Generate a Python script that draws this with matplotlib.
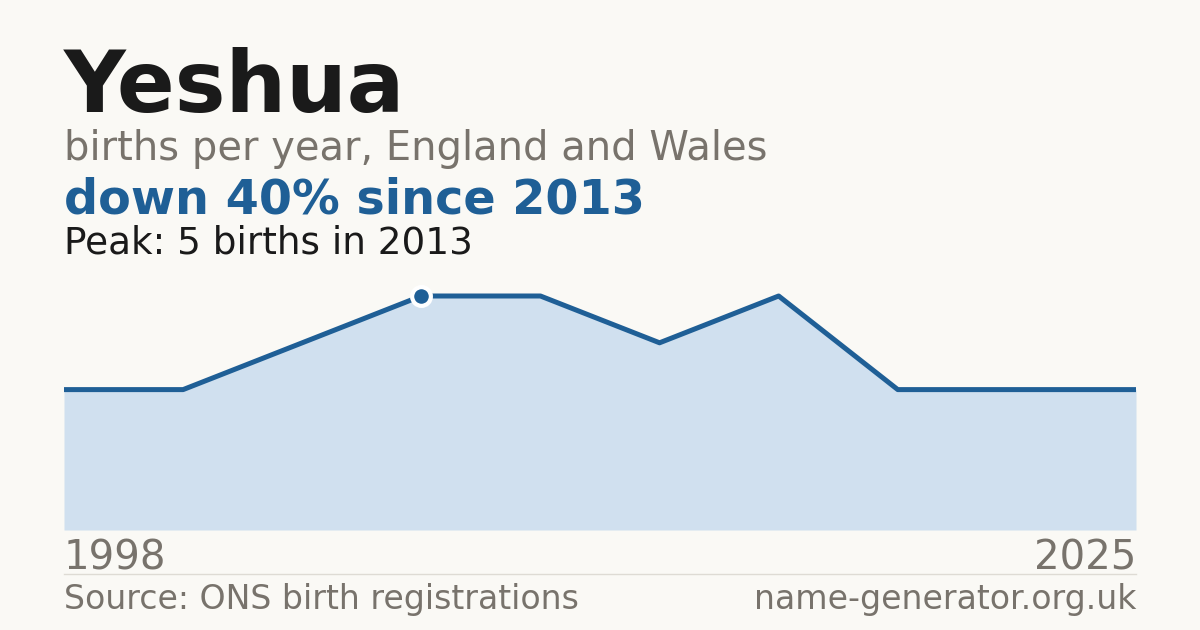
import matplotlib
matplotlib.use("Agg")
from matplotlib import pyplot as plt

name = "Yeshua"
subtitle = "births per year, England and Wales"
headline = "down 40% since 2013"
peak_note = "Peak: 5 births in 2013"
source = "Source: ONS birth registrations"
site = "name-generator.org.uk"

# years with published counts (only first / last shown on the chart)
years = [1998, 2008, 2011, 2013, 2014, 2016, 2017, 2019, 2022, 2025]
births = [3, 3, 4, 5, 5, 4, 5, 3, 3, 3]
peak_year = 2013

BG = "#faf9f5"
DARK = "#1a1a1a"
GREY = "#78736c"
BLUE = "#1f5f96"
FILL = "#d0e0ef"

W, H = 1200, 630
fig = plt.figure(figsize=(W / 100, H / 100), dpi=100)
fig.patch.set_facecolor(BG)


def px(x, y):
    return x / W, 1 - y / H


def txt(x, y, s, **kw):
    fig.text(*px(x, y), s, va="baseline", family="DejaVu Sans", **kw)


txt(64, 112, name, fontsize=61.5, fontweight="bold", color=DARK)
txt(64, 160, subtitle, fontsize=28.8, color=GREY)
txt(64, 214, headline, fontsize=34.4, fontweight="bold", color=BLUE)
txt(64, 253, peak_note, fontsize=26.9, color=DARK)

# plot area
left, right, top, bottom = 64, 1136, 296, 530
ax = fig.add_axes([left / W, 1 - bottom / H, (right - left) / W, (bottom - top) / H])
ax.set_facecolor("none")
xs = list(range(len(years)))
ax.fill_between(xs, births, 0, color=FILL, lw=0)
ax.plot(xs, births, color=BLUE, lw=3.6, solid_joinstyle="round",
        solid_capstyle="butt", clip_on=False)
pi = years.index(peak_year)
ax.plot([xs[pi]], [births[pi]], "o", ms=13.5, color=BLUE, mec="white", mew=3,
        clip_on=False, zorder=5)
ax.set_xlim(0, len(years) - 1)
ax.set_ylim(0, max(births))
ax.axis("off")

txt(64, 570, str(years[0]), fontsize=29, color=GREY)
txt(1136, 570, str(years[-1]), fontsize=29, color=GREY, ha="right")

fig.add_artist(plt.Line2D([64 / W, 1136 / W], [1 - 574 / H] * 2, color="#dedbd4", lw=1))

txt(64, 609, source, fontsize=23.9, color=GREY)
txt(1136, 609, site, fontsize=23.9, color=GREY, ha="right")

fig.savefig("out.png", dpi=100, facecolor=BG)
